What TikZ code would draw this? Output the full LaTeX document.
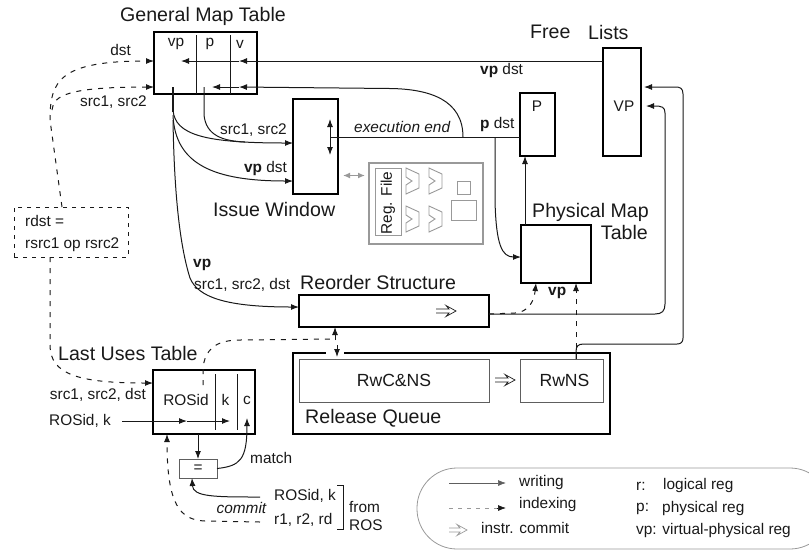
\documentclass[tikz,border=0pt]{standalone}
\usepackage{fontspec}
\setmainfont{Liberation Sans}
\usetikzlibrary{arrows.meta,calc}
\definecolor{ink}{gray}{0.1}
\definecolor{soft}{gray}{0.6}
\tikzset{
  tip/.style={-{Latex[length=8pt,width=6pt]}},
  bothtips/.style={{Latex[length=8pt,width=6pt]}-{Latex[length=8pt,width=6pt]}},
  wire/.style={draw=ink,line width=1pt},
  idx/.style={draw=ink,line width=1pt,dash pattern=on 5pt off 6pt},
  box/.style={draw=black,line width=2.2pt,inner sep=0pt,outer sep=0pt,fill=none},
  thin box/.style={draw=ink!70!white,line width=0.9pt,inner sep=0pt,outer sep=0pt},
  soft box/.style={draw=soft,line width=0.9pt,inner sep=0pt,outer sep=0pt},
  big/.style={font=\fontsize{19.6}{22}\selectfont,text=ink,inner sep=0pt},
  lab/.style={font=\fontsize{15.4}{18}\selectfont,text=ink,inner sep=0pt},
  mid/.style={font=\fontsize{17.6}{20}\selectfont,text=ink},
  muxshape/.style={draw=soft,line width=0.9pt,line join=miter},
}
\newcommand{\muxat}[2]{\draw[muxshape] (#1,#2) -- ++(13,6) -- ++(0,14) -- ++(-13,6) -- ++(0,-9) -- ++(6,-4) -- ++(-6,-4) -- cycle;}
\newcommand{\hollowarrow}[4][ink]{\draw[#1,line width=0.7pt,line join=miter] (#2,#3-2) -- ++(#4-7,0) -- ++(-3,-3.5) -- (#2+#4,#3) -- (#2+#4-10,#3+5.5) -- ++(3,-3.5) -- (#2,#3+2);}
\begin{document}
\begin{tikzpicture}[x=1pt,y=-1pt]
\useasboundingbox (0,0) rectangle (809,550);
% boxes
\node[box,minimum width=103pt,minimum height=62pt] (gmt) at (205.5,63) {};
\node[box,minimum width=45pt,minimum height=95pt] (iw) at (315.5,146.5) {};
\node[box,minimum width=35pt,minimum height=63pt] (pbox) at (537.5,124.5) {};
\node[box,minimum width=38pt,minimum height=108pt] (vpbox) at (622,102) {};
\node[box,minimum width=70pt,minimum height=58pt] (pmt) at (556,254) {};
\node[box,minimum width=190pt,minimum height=32pt] (ros) at (394,311) {};
\node[box,minimum width=317pt,minimum height=81pt] (rq) at (451.5,393.5) {};
\node[thin box,minimum width=190pt,minimum height=43pt,mid] (rwc) at (394,380.5) {RwC\&NS};
\node[thin box,minimum width=83pt,minimum height=43pt,mid] (rwns) at (561.5,380.5) {\hspace*{6pt}RwNS};
\node[box,minimum width=102pt,minimum height=64pt] (lut) at (204,402) {};
\node[thin box,minimum width=38pt,minimum height=19pt,font=\fontsize{15.4}{18}\selectfont,text=ink] (eq) at (198,468.5) {=};
\draw[white,line width=3pt] (326,353) -- (344,353);
\node[draw=ink,line width=0.7pt,dash pattern=on 4pt off 5pt,minimum width=114pt,minimum height=50pt,inner sep=0pt,outer sep=0pt] (rd) at (71,232) {};
% table dividers
\draw[wire] (196,35) -- (196,94) (230,35) -- (230,94);
\draw[wire] (215,374) -- (215,430) (237,374) -- (237,430);
% register file block
\node[draw=soft,line width=2pt,minimum width=114pt,minimum height=81pt,inner sep=0pt,outer sep=0pt] (rf) at (426,203.5) {};
\node[soft box,minimum width=26pt,minimum height=67pt] (rfin) at (388,202) {};
\node[lab,rotate=90] (rflab) at (388,203) {Reg. File};
\muxat{406}{168}
\muxat{429}{168}
\muxat{406}{206}
\muxat{429}{206}
\node[soft box,minimum width=13pt,minimum height=13pt] (rfa) at (463.5,187.5) {};
\node[soft box,minimum width=25pt,minimum height=20pt] (rfb) at (463.5,210) {};
\draw[soft,line width=1.5pt,{Latex[length=7pt,width=6pt]}-{Latex[length=7pt,width=6pt]}] (iw.east)++(5,29) coordinate (ga) -- ($(rf.west |- ga)+(-4,0)$);
% free-list lines to map table
\coordinate (va) at (239,61);
\coordinate (vb) at (181,61);
\coordinate (vc) at (239,87);
\coordinate (vd) at (212,87);
\coordinate (junc) at (463,137);
\draw[wire,tip] (vpbox.west |- va) -- (va);
\draw[wire,tip] (va) -- (vb);
\draw[wire,tip] (junc) .. controls (463,100) and (430,89) .. (390,88.5) -- (vc);
\draw[wire,tip] (vc) -- (vd);
% execution end line
\coordinate (iwc) at (330,137);
\draw[wire] (iwc) -- (pbox.west |- iwc);
\draw[wire,bothtips] (330,119) -- (330,155);
% to physical map
\draw[wire,tip] (495,137) -- (495,200) .. controls (496,245) and (502,257) .. (pmt.west |- 0,257);
\draw[wire,tip] (pmt.north -| 525,0) -- (pbox.south -| 525,0);
% general map out
\coordinate (vpo) at (173,87);
\coordinate (po) at (204,87);
\draw[wire,line width=1.2pt] (vpo) -- (173,112);
\draw[wire,tip] (173,110) .. controls (175,135) and (205,143) .. (iw.west |- 0,143);
\draw[wire] (po) -- (204,115) .. controls (206,135) and (222,141) .. (245,142);
\draw[wire,tip] (173,115) .. controls (175,165) and (215,181) .. (iw.west |- 0,181);
\draw[wire,tip] (173,120) .. controls (174,180) and (178,240) .. (190,278) .. controls (198,297) and (225,307) .. (ros.west |- 0,307);
% dashed to map
\coordinate (dj) at (50,120);
\draw[idx] (rd.north) ++(-9,0) -- (dj);
\draw[idx,tip] (dj) .. controls (50,80) and (60,61) .. (gmt.west |- va);
\draw[idx,tip] (52,110) .. controls (53,95) and (70,87) .. (gmt.west |- vc);
% dashed to LUT
\draw[idx,tip] (rd.south) ++(-21,0) -- (50,345) .. controls (50,375) and (80,383) .. (lut.west |- 0,383);
% LUT
\draw[wire,tip] (122,421) -- (187,421);
\draw[wire,tip] (187,421) -- (230,421);
\draw[wire,tip] (lut.south -| eq.north) -- (eq.north);
\draw[wire,tip] (eq.east) .. controls (240,466) and (247,460) .. (247,418);
\draw[wire,tip] (260,497) .. controls (215,497) and (193,497) .. (eq.south -| 192,0);
\draw[idx,tip] (260,522) -- (205,521) .. controls (180,520) and (167,505) .. (lut.south -| 167,0);
\draw[idx] (203,385) -- (203,368) .. controls (205,350) and (215,340) .. (240,340) -- (332,339);
\draw[idx,tip] (335,340) -- (ros.south -| 335,0);
\draw[idx,tip] (337,345) -- ($(rq.north -| 337,0)+(0,4)$);
% ROS out
\coordinate (rr) at (655,314);
\draw[wire,tip] (ros.east |- rr) -- (rr) .. controls (662,314) and (665,311) .. (665,304) -- (665,113) .. controls (665,107) and (662,106) .. (654,106) -- (646,106);
\draw[idx,tip] (ros.east |- rr) -- (515,313) .. controls (528,312) and (534,302) .. (pmt.south -| 536,0);
\draw[idx,tip] (rwns.north -| 576,0) -- (pmt.south -| 576,0);
\draw[wire,tip] (rwns.north -| 576,0) -- (576,352) .. controls (576,346) and (578,344) .. (584,344) -- (677,344) .. controls (681,344) and (683,342) .. (683,338) -- (683,94) .. controls (683,88) and (680,87) .. (675,87) -- (644,87);
% hollow arrows
\hollowarrow{436}{311}{20}
\hollowarrow{495}{380}{20}
% bracket
\draw[ink,line width=0.9pt] (337,485) -- (343,485) -- (343,529) -- (337,529);
% legend
\draw[soft,line width=0.8pt,rounded corners=40pt] (417,468) rectangle (830,549);
\coordinate (la) at (449,483); \coordinate (lb) at (506,483);
\coordinate (lc) at (449,508); \coordinate (ld) at (506,508); \coordinate (le) at (497,508);
\draw[ink!70!white,line width=0.7pt,tip] (la) -- (lb);
\draw[soft,line width=0.7pt,dash pattern=on 4pt off 5pt] (lc) -- (le);
\draw[ink,line width=0.7pt,tip] (le) -- (ld);
\hollowarrow[soft]{449}{530}{18}
% texts
\node[big,anchor=west] (t1) at (120,16) {General Map Table};
\node[big,anchor=west] (t2) at (213,209) {Issue Window};
\node[big,anchor=west] (t3) at (530,32) {Free};
\node[big,anchor=west] (t4) at (588,32) {Lists};
\node[big,anchor=west] (t5) at (532,212) {Physical Map};
\node[big,anchor=east] (t6) at (648,232) {Table};
\node[big,anchor=west] (t7) at (300,282) {Reorder Structure};
\node[big,anchor=west] (t8) at (305,418) {Release Queue};
\node[big,anchor=west] (t9) at (58,353) {Last Uses Table};
\node[lab] (g1) at (176,44) {vp};
\node[lab] (g2) at (210,44) {p};
\node[lab] (g3) at (240,44) {v};
\node[lab] (pl) at (537,106) {P};
\node[lab] (vl) at (624,106) {VP};
\node[lab,anchor=east] (l1) at (131,50) {dst};
\node[lab,anchor=east] (l2) at (147,102) {src1, src2};
\node[lab,anchor=east] (l3) at (287,130) {src1, src2};
\node[lab,anchor=east] (l4) at (287,169) {\textbf{vp} dst};
\node[lab,anchor=west] (l5) at (354,127) {\textit{execution end}};
\node[lab,anchor=west] (l6) at (480,71) {\textbf{vp} dst};
\node[lab,anchor=west] (l7) at (480,125) {\textbf{p} dst};
\node[lab,anchor=west] (l8) at (193,265) {\textbf{vp}};
\node[lab,anchor=west] (l9) at (194,285) {src1, src2, dst};
\node[lab,anchor=west] (l10) at (548,293) {\textbf{vp}};
\node[lab,anchor=west] (l11) at (25,221) {rdst =};
\node[lab,anchor=west] (l12) at (25,245) {rsrc1 op rsrc2};
\node[lab,anchor=east] (l13) at (146,395) {src1, src2, dst};
\node[lab,anchor=west] (l14) at (49,421) {ROSid, k};
\node[lab] (l15) at (186,400) {ROSid};
\node[lab] (l16) at (225.5,400) {k};
\node[lab] (l17) at (247,400) {c};
\node[lab,anchor=west] (l18) at (250,458) {match};
\node[lab,anchor=west] (l19) at (274,496) {ROSid, k};
\node[lab,anchor=west] (l20) at (274,520) {r1, r2, rd};
\node[lab,anchor=east] (l21) at (267,508) {\textit{commit}};
\node[lab,anchor=west] (l22) at (349,507) {from};
\node[lab,anchor=west] (l23) at (349,525) {ROS};
\node[lab,anchor=west] (l24) at (519,483) {writing};
\node[lab,anchor=west] (l25) at (519,505) {indexing};
\node[lab,anchor=west] (l26) at (481,528) {instr. commit};
\node[lab,anchor=west] (l27) at (636,486) {r:};
\node[lab,anchor=west] (l28) at (663,486) {logical reg};
\node[lab,anchor=west] (l29) at (636,509) {p:};
\node[lab,anchor=west] (l30) at (662,509) {physical reg};
\node[lab,anchor=west] (l31) at (636,531) {vp: virtual-physical reg};
\end{tikzpicture}
\end{document}
